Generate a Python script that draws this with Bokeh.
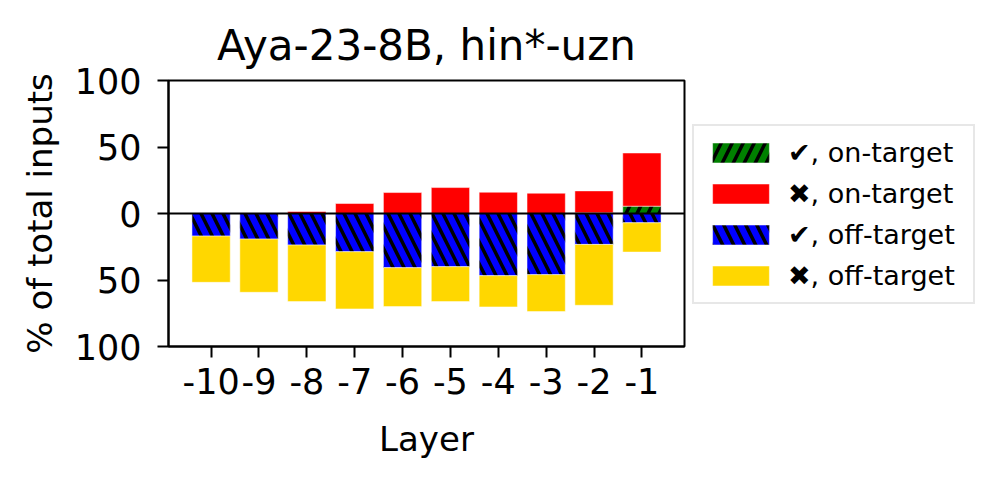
from bokeh.plotting import figure
from bokeh.models import FixedTicker, Legend, LegendItem, Span, ColumnDataSource
from bokeh.embed import file_html
from bokeh.resources import INLINE

layers = [-10, -9, -8, -7, -6, -5, -4, -3, -2, -1]
on_correct = [0, 0, 0, 0, 0, 0, 0, 0, 0.5, 5.5]
on_wrong = [0, 0, 1.5, 7.5, 15.75, 19.5, 16, 15.25, 16.5, 40]
off_correct = [17, 19.25, 23.75, 28.75, 40.75, 40, 46.75, 46, 23.25, 7]
off_wrong = [34.75, 40, 42.5, 43, 29.25, 26.25, 23.5, 27.75, 45.75, 22]

FONT = "DejaVu Sans"

g_top = on_correct
r_bot = on_correct
r_top = [a + b for a, b in zip(on_correct, on_wrong)]
b_bot = [-a for a in off_correct]
y_bot = b_bot
y_top = [-(a + b) for a, b in zip(off_correct, off_wrong)]

src = ColumnDataSource(dict(x=layers, g_top=g_top, r_bot=r_bot, r_top=r_top,
                            b_bot=b_bot, y_bot=y_bot, y_top=y_top,
                            zero=[0] * len(layers)))

p = figure(frame_width=516, frame_height=266, x_range=(-10.89, -0.11), y_range=(-100, 100),
           output_backend="svg", toolbar_location=None,
           min_border_left=168, min_border_top=80, min_border_bottom=120, min_border_right=10,
           title="Aya-23-8B, hin*-uzn")
p.title.align = "center"
p.title.text_font = FONT
p.title.text_font_size = "42px"
p.title.text_font_style = "normal"
p.title.text_color = "black"
p.title.standoff = 22

common = dict(width=0.8, line_color="white", line_width=0.5, source=src)
rg = p.vbar(x="x", bottom="zero", top="g_top", fill_color="green", hatch_pattern="/",
            hatch_color="black", hatch_weight=3.5, hatch_scale=22, **common)
rr = p.vbar(x="x", bottom="r_bot", top="r_top", fill_color="red", **common)
rb = p.vbar(x="x", bottom="zero", top="b_bot", fill_color="blue", hatch_pattern="\\",
            hatch_color="black", hatch_weight=3.5, hatch_scale=22, **common)
ry = p.vbar(x="x", bottom="y_bot", top="y_top", fill_color="gold", **common)

p.add_layout(Span(location=0, dimension="width", line_color="black", line_width=2))

p.xgrid.visible = False
p.ygrid.visible = False
p.outline_line_color = "black"
p.outline_line_width = 2

p.xaxis.ticker = FixedTicker(ticks=layers)
p.xaxis.major_label_overrides = {v: str(v) for v in layers}
p.yaxis.ticker = FixedTicker(ticks=[-100, -50, 0, 50, 100])
p.yaxis.major_label_overrides = {-100: "100", -50: "50", 0: "0", 50: "50", 100: "100"}
for ax in (p.xaxis, p.yaxis):
    ax.axis_line_width = 2
    ax.axis_line_color = "black"
    ax.major_tick_line_width = 2
    ax.major_tick_line_color = "black"
    ax.major_tick_out = 11
    ax.major_tick_in = 0
    ax.minor_tick_line_color = None
    ax.major_label_text_font = FONT
    ax.major_label_text_font_size = "35px"
    ax.major_label_text_color = "black"
    ax.axis_label_text_font = FONT
    ax.axis_label_text_font_size = "34px"
    ax.axis_label_text_font_style = "normal"
    ax.axis_label_text_color = "black"
p.xaxis.axis_label = "Layer"
p.yaxis.axis_label = "% of total inputs"
p.xaxis.major_label_standoff = 10
p.yaxis.major_label_standoff = 16
p.xaxis.axis_label_standoff = 22
p.yaxis.axis_label_standoff = 12

legend = Legend(items=[
    LegendItem(label="✔, on-target", renderers=[rg]),
    LegendItem(label="✖, on-target", renderers=[rr]),
    LegendItem(label="✔, off-target", renderers=[rb]),
    LegendItem(label="✖, off-target", renderers=[ry]),
], location=(8, 42))
legend.label_text_font = FONT
legend.label_text_font_size = "27px"
legend.label_text_color = "black"
legend.glyph_width = 71
legend.glyph_height = 25
legend.label_height = 25
legend.label_width = 174
legend.label_standoff = 12
legend.spacing = 10
legend.padding = 11
legend.margin = 0
legend.border_line_color = "#d0d0d0"
legend.border_line_width = 2
legend.background_fill_alpha = 1
p.add_layout(legend, "right")

open("out.html", "w").write(file_html(p, INLINE))
